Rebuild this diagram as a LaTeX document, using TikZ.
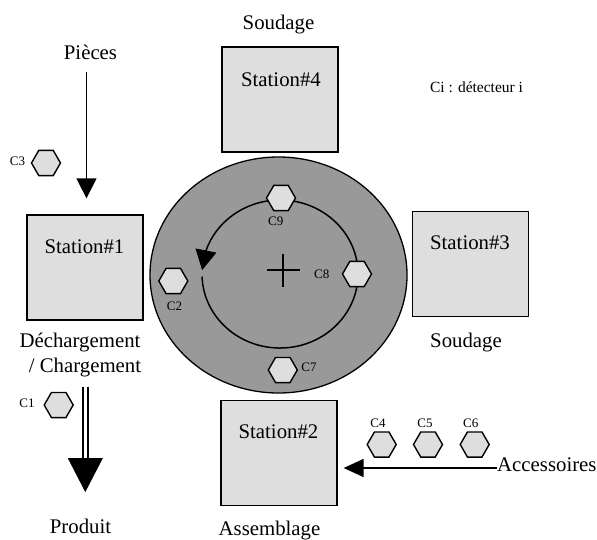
\documentclass[tikz,border=0pt]{standalone}
\usepackage{fontspec}
\setmainfont{Liberation Serif}
\usepackage{tikz}
\usetikzlibrary{arrows.meta,bending,shapes}
\newcommand{\hexs}{29pt}
\newcommand{\boxw}{116pt}
\newcommand{\boxh}{105pt}
\definecolor{boxgray}{gray}{0.87}
\definecolor{tablegray}{gray}{0.6}

\begin{document}
\begin{tikzpicture}[x=1pt,y=-1pt]
        \begin{scope}
            %\draw[help lines] (0,0) grid (597,539);
            \useasboundingbox (0,0) rectangle (597,539);
            \tikzset{station/.style = {draw, fill=boxgray, line width=1.3pt, minimum width=\boxw, minimum height=\boxh, inner sep=0pt}}
            \tikzset{sensor/.style = {draw, fill=boxgray, regular polygon, regular polygon sides=6, minimum size=\hexs, inner sep=0pt, line width=1.4pt}}
            \tikzset{txt/.style = {font=\fontsize{20.8}{24}\selectfont, inner sep=0pt, anchor=base}}
            \tikzset{tag/.style = {font=\fontsize{13}{15}\selectfont, inner sep=0pt, anchor=base}}
            \tikzset{feed/.style = {line width=1.4pt, -{Triangle[width=20pt,length=20pt]}}}

            % turntable
            \node[ellipse, draw, fill=tablegray, line width=1.3pt, minimum width=257pt, minimum height=236pt, inner sep=0pt] (table) at (278.5,275) {};
            \coordinate (hub) at (283,270);
            \draw[line width=1.2pt] (hub) +(-16.5,0) -- +(16.5,0);
            \draw[line width=1.2pt] (hub) +(0,-16.5) -- +(0,16.5);
            \coordinate (ringstart) at (202.05,276.6);
            \draw[line width=1.5pt, -{Triangle[width=21pt,length=20pt]}] (ringstart) arc[start angle=-178, end angle=177, x radius=78pt, y radius=74pt];

            % stations
            \node[station] (st4) at (280,99.5) {};
            \node[station] (st1) at (85,267.5) {};
            \node[station] (st3) at (470.5,264) {};
            \node[station] (st2) at (279,453) {};
            \node[txt] (st4txt) at (281,86) {Station\#4};
            \node[txt] (st1txt) at (84.5,253) {Station\#1};
            \node[txt] (st3txt) at (470,249) {Station\#3};
            \node[txt] (st2txt) at (278.5,438) {Station\#2};

            % texts
            \node[txt] (weldtop) at (278.5,29) {Soudage};
            \node[txt] (weldright) at (466,347.7) {Soudage};
            \node[txt] (pieces) at (90.5,59) {Pièces};
            \node[txt] (unload) at (80,347.7) {Déchargement};
            \node[txt] (load) at (85,372.7) {/ Chargement};
            \node[txt] (product) at (80.5,533) {Produit};
            \node[txt] (assembly) at (269.5,535.5) {Assemblage};
            \node[txt, anchor=base west] (acc) at (497,471) {Accessoires};
            \node[font=\fontsize{15.5}{18}\selectfont, inner sep=0pt, anchor=base] (legend) at (476.5,92.6) {Ci : détecteur i};

            % sensors
            \node[sensor] (c1) at (58.7,405) {};
            \node[sensor] (c2) at (173.3,281) {};
            \node[sensor] (c3) at (46,163) {};
            \node[sensor] (c4) at (381.7,444.5) {};
            \node[sensor] (c5) at (428,444.5) {};
            \node[sensor] (c6) at (474.7,444.5) {};
            \node[sensor] (c7) at (282.8,370) {};
            \node[sensor] (c8) at (357,274) {};
            \node[sensor] (c9) at (281,198) {};
            \node[tag] (c1tag) at (27,407) {C1};
            \node[tag] (c2tag) at (174.5,310) {C2};
            \node[tag] (c3tag) at (17.5,165.7) {C3};
            \node[tag] (c4tag) at (378,427) {C4};
            \node[tag] (c5tag) at (425,427) {C5};
            \node[tag] (c6tag) at (470.7,427) {C6};
            \node[tag] (c7tag) at (309,371.7) {C7};
            \node[tag] (c8tag) at (321.7,278) {C8};
            \node[tag] (c9tag) at (275.8,225.7) {C9};

            % flows
            \coordinate (feedtop) at (86.5,72);
            \draw[feed, shorten >=16pt] (feedtop) -- (feedtop |- st1.north);
            \coordinate (outtop) at (85.3,386.7);
            \coordinate (outmid) at (85.3,458);
            \coordinate (outtip) at (85.3,492);
            \draw[double, double distance=3.4pt, line width=2pt] (outtop) -- (outmid);
            \draw[-{Triangle[width=35pt,length=34pt]}] (outmid) -- (outtip);
            \coordinate (accstart) at (497,468);
            \draw[line width=1.4pt, -{Triangle[width=18pt,length=20pt]}, shorten >=6pt] (accstart) -- (accstart -| st2.east);
        \end{scope}
    \end{tikzpicture}
\end{document}
